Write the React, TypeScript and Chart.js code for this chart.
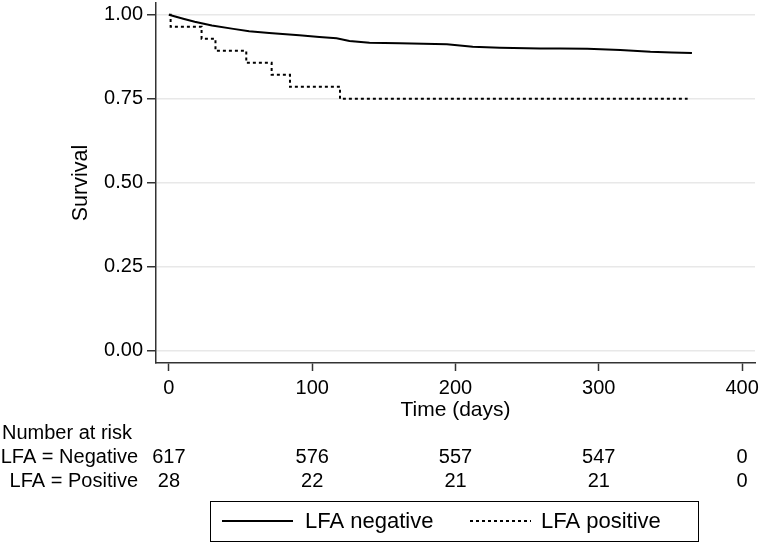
import React, { useEffect, useRef } from "react";
import { Chart, registerables } from "chart.js";

Chart.register(...registerables);

// Kaplan–Meier estimates
const negDays = [0, 10, 18, 30, 45, 56, 70, 91, 105, 117, 126, 140, 161, 194, 212, 231, 259, 273, 292, 315, 336, 351, 365];
const negSurv = [1.0, 0.988, 0.979, 0.968, 0.958, 0.951, 0.946, 0.939, 0.934, 0.93, 0.922, 0.917, 0.915, 0.912, 0.905, 0.902, 0.9, 0.9, 0.899, 0.895, 0.89, 0.888, 0.886];
const posDays = [0, 1.2, 22.8, 32.5, 54, 71.7, 84.5, 119.4, 362];
const posSurv = [1.0, 0.9643, 0.9286, 0.8929, 0.8571, 0.8214, 0.7857, 0.75, 0.75];

const xTicks = [0, 100, 200, 300, 400];
const yTicks = [0, 0.25, 0.5, 0.75, 1];

const seriesLabels = ["LFA negative", "LFA positive"];
const riskTitle = "Number at risk";
const riskGroups = ["LFA = Negative", "LFA = Positive"];
const riskTimes = [0, 100, 200, 300, 400];
const riskNeg = [617, 576, 557, 547, 0];
const riskPos = [28, 22, 21, 21, 0];

const FONT = "'Liberation Sans', Arial, Helvetica, sans-serif";
const AXIS = "#333333";

export default function App() {
  const ref = useRef<HTMLCanvasElement | null>(null);

  useEffect(() => {
    if (!ref.current) return;

    const extras = {
      id: "kmExtras",
      afterDraw(chart: any) {
        const ctx = chart.ctx as CanvasRenderingContext2D;
        const xs = chart.scales.x;
        ctx.save();
        ctx.fillStyle = "#000";
        ctx.font = `20px ${FONT}`;
        ctx.textBaseline = "middle";
        // number at risk table
        ctx.textAlign = "left";
        ctx.fillText(riskTitle, 2, 433);
        const rows = [riskNeg, riskPos];
        rows.forEach((row, r) => {
          const y = 457 + r * 24;
          ctx.textAlign = "right";
          ctx.fillText(riskGroups[r], 138, y);
          ctx.textAlign = "center";
          row.forEach((n, i) => {
            ctx.fillText(String(n), xs.getPixelForValue(riskTimes[i]), y);
          });
        });
        // legend box
        ctx.strokeStyle = "#000";
        ctx.lineWidth = 1;
        ctx.strokeRect(210.5, 501.5, 488, 40);
        const ly = 521;
        const items = [
          { x0: 222, x1: 293, tx: 305 },
          { x0: 470, x1: 531, tx: 541 },
        ];
        ctx.font = `22px ${FONT}`;
        chart.data.datasets.forEach((ds: any, i: number) => {
          const it = items[i];
          ctx.beginPath();
          ctx.setLineDash(ds.borderDash || []);
          ctx.lineWidth = 2;
          ctx.strokeStyle = ds.borderColor;
          ctx.moveTo(it.x0, ly);
          ctx.lineTo(it.x1, ly);
          ctx.stroke();
          ctx.setLineDash([]);
          ctx.textAlign = "left";
          ctx.fillText(ds.label, it.tx, ly + 1);
        });
        ctx.restore();
      },
    };

    const chart = new Chart(ref.current, {
      type: "line",
      data: {
        datasets: [
          {
            label: seriesLabels[0],
            data: negDays.map((d, i) => ({ x: d, y: negSurv[i] })),
            borderColor: "#000",
            borderWidth: 2,
            pointRadius: 0,
            tension: 0,
            fill: false,
          },
          {
            label: seriesLabels[1],
            data: posDays.map((d, i) => ({ x: d, y: posSurv[i] })),
            borderColor: "#000",
            borderWidth: 2,
            borderDash: [3, 3],
            pointRadius: 0,
            stepped: "before",
            fill: false,
          },
        ],
      },
      options: {
        animation: false,
        responsive: true,
        maintainAspectRatio: false,
        layout: { padding: { left: 0, right: 5, top: 3, bottom: 121 } },
        plugins: { legend: { display: false }, tooltip: { enabled: false } },
        scales: {
          x: {
            type: "linear",
            min: -9,
            max: 409,
            offset: false,
            afterBuildTicks: (s: any) => {
              s.ticks = xTicks.map((v) => ({ value: v }));
            },
            afterFit: (s: any) => {
              s.height = 60;
              s.paddingLeft = 0;
              s.paddingRight = 0;
            },
            ticks: {
              font: { family: FONT, size: 20 },
              color: "#000",
              padding: 5,
              maxRotation: 0,
              autoSkip: false,
            },
            grid: {
              drawOnChartArea: false,
              drawTicks: true,
              tickLength: 8,
              tickColor: AXIS,
              tickWidth: 1.5,
            },
            border: { color: AXIS, width: 1.5 },
            title: {
              display: true,
              text: "Time (days)",
              font: { family: FONT, size: 21 },
              color: "#000",
              padding: { top: 0, bottom: 0 },
            },
          },
          y: {
            type: "linear",
            min: -0.036,
            max: 1.035,
            offset: false,
            afterBuildTicks: (s: any) => {
              s.ticks = yTicks.map((v) => ({ value: v }));
            },
            afterFit: (s: any) => {
              s.width = 156;
              s.paddingTop = 0;
              s.paddingBottom = 0;
            },
            ticks: {
              font: { family: FONT, size: 20 },
              color: "#000",
              padding: 4,
              callback: (v: any) => Number(v).toFixed(2),
            },
            grid: {
              color: "#e8e8e8",
              lineWidth: 1.5,
              drawTicks: true,
              tickLength: 9,
              tickColor: AXIS,
              tickWidth: 1.5,
            },
            border: { color: AXIS, width: 1.5 },
            title: {
              display: true,
              text: "Survival",
              font: { family: FONT, size: 21.5 },
              color: "#000",
              padding: { top: 68, bottom: 0 },
            },
          },
        },
      },
      plugins: [extras],
    } as any);

    return () => chart.destroy();
  }, []);

  return (
    <div style={{ position: "fixed", left: 0, top: 0, width: 760, height: 544, background: "#fff" }}>
      <canvas ref={ref} />
    </div>
  );
}
